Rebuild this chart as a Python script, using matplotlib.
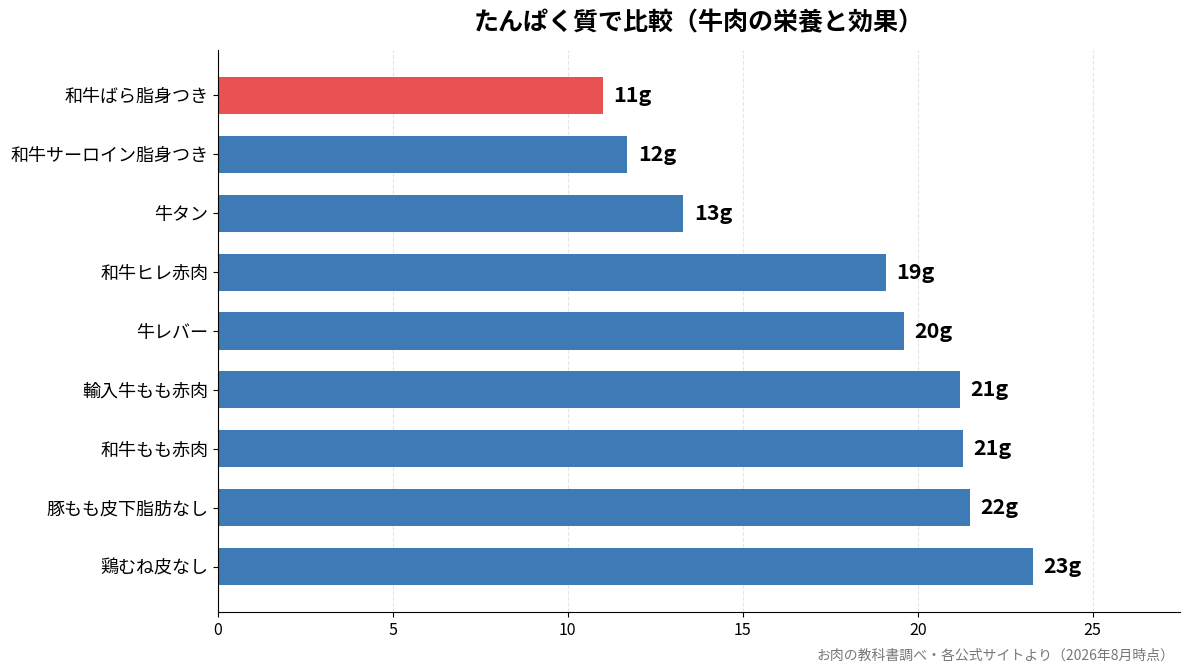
import matplotlib
matplotlib.use("Agg")
import matplotlib.pyplot as plt

plt.rcParams['font.family'] = ['Noto Sans CJK JP', 'DejaVu Sans']

foods = ['和牛ばら脂身つき', '和牛サーロイン脂身つき', '牛タン', '和牛ヒレ赤肉', '牛レバー',
         '輸入牛もも赤肉', '和牛もも赤肉', '豚もも皮下脂肪なし', '鶏むね皮なし']
protein = [11.0, 11.7, 13.3, 19.1, 19.6, 21.2, 21.3, 21.5, 23.3]
value_labels = ['11g', '12g', '13g', '19g', '20g', '21g', '21g', '22g', '23g']
highlight = '和牛ばら脂身つき'

fig = plt.figure(figsize=(11.93, 6.72), dpi=100)
ax = fig.add_axes([218 / 1193, 60 / 672, 962 / 1193, 562 / 672])

colors = ['#E85252' if f == highlight else '#3E7AB6' for f in foods]
ypos = list(range(len(foods)))
ax.barh(ypos, protein, height=0.63, color=colors, zorder=2)
ax.set_yticks(ypos)
ax.set_yticklabels(foods, fontsize=13)
ax.set_ylim(len(foods) - 1 + 0.77, -0.77)
ax.set_xlim(0, 27.5)
ax.set_xticks([0, 5, 10, 15, 20, 25])
ax.tick_params(axis='x', labelsize=11.5)
ax.tick_params(axis='y', labelsize=13)

for y, v, lab in zip(ypos, protein, value_labels):
    ax.text(v + 0.3, y, lab, va='center', ha='left', fontsize=15.5, fontweight='bold')

ax.grid(axis='x', linestyle='--', color='#e6e6e6', linewidth=0.8, zorder=0)
ax.spines['top'].set_visible(False)
ax.spines['right'].set_visible(False)

ax.set_title('たんぱく質で比較（牛肉の栄養と効果）', fontsize=18, fontweight='bold', pad=14)
fig.text(1175 / 1193, 1 - 656 / 672, 'お肉の教科書調べ・各公式サイトより（2026年8月時点）',
         ha='right', va='center', fontsize=10, color='#777777')

fig.savefig('out.png', dpi=100)
